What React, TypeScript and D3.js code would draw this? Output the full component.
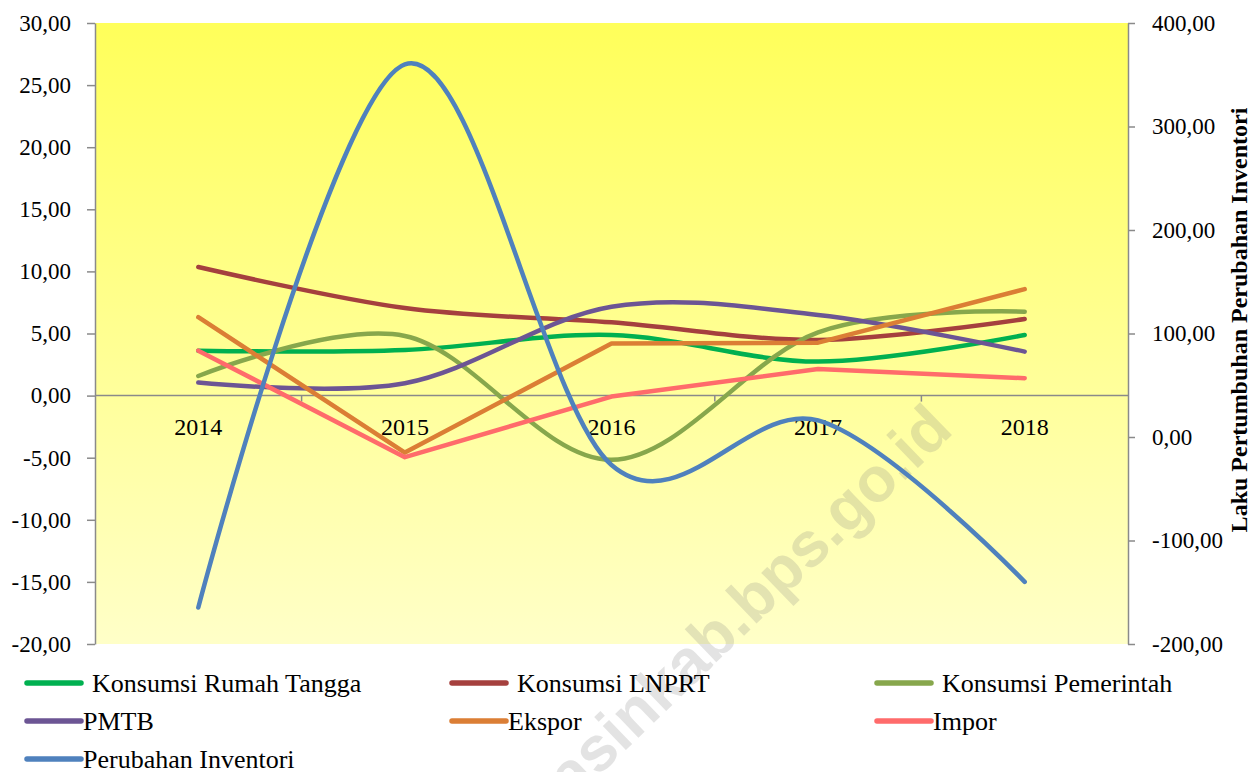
import { useRef, useEffect } from "react";
import * as d3 from "d3";

// years on the category axis
const years = ["2014", "2015", "2016", "2017", "2018"];

// growth rates (%), left axis
const rumahTangga = [3.62, 3.67, 4.88, 2.74, 4.88];
const lnprt = [10.35, 7.05, 5.9, 4.48, 6.17];
const pemerintah = [1.58, 4.8, -5.17, 5.1, 6.76];
const pmtb = [1.05, 1.0, 7.15, 6.49, 3.54];
const ekspor = [6.31, -4.59, 4.2, 4.26, 8.57];
const impor = [3.62, -4.96, -0.08, 2.15, 1.4];

// right axis
const inventori = [-164.7, 360, -27, 16, -140];

const leftDomain = [-20, 30];
const rightDomain = [-200, 400];
const rightTitle = "Laku Pertumbuhan Perubahan Inventori";

interface Series {
  name: string;
  values: number[];
  color: string;
  right?: boolean;
  smooth: boolean;
}

const series: Series[] = [
  { name: "Konsumsi Rumah Tangga", values: rumahTangga, color: "#00B050", smooth: true },
  { name: "Konsumsi LNPRT", values: lnprt, color: "#A5403E", smooth: true },
  { name: "Konsumsi Pemerintah", values: pemerintah, color: "#87A74C", smooth: true },
  { name: "PMTB", values: pmtb, color: "#6C5594", smooth: true },
  { name: "Ekspor", values: ekspor, color: "#DB7E35", smooth: false },
  { name: "Impor", values: impor, color: "#FF6B6B", smooth: false },
  { name: "Perubahan Inventori", values: inventori, color: "#4F81BD", right: true, smooth: true },
];

const W = 1257;
const H = 772;
const serif = "'Liberation Serif', 'Times New Roman', serif";

const locale = d3.formatLocale({
  decimal: ",",
  thousands: ".",
  grouping: [3],
  currency: ["", ""],
  minus: "-",
});
const fmt = locale.format(".2f");

export default function App() {
  const svgRef = useRef<SVGSVGElement>(null);

  useEffect(() => {
    if (!svgRef.current) return;
    const svg = d3.select(svgRef.current);
    svg.selectAll("*").remove();

    const left = 95;
    const right = 1128;
    const top = 23;
    const bottom = 644;

    const x = d3.scaleBand().domain(years).range([left, right]);
    const cx = (d: string) => (x(d) ?? 0) + x.bandwidth() / 2;
    const yL = d3.scaleLinear().domain(leftDomain).range([bottom, top]);
    const yR = d3.scaleLinear().domain(rightDomain).range([bottom, top]);

    // background gradient
    const grad = svg
      .append("defs")
      .append("linearGradient")
      .attr("id", "bg")
      .attr("x1", 0)
      .attr("y1", 0)
      .attr("x2", 0)
      .attr("y2", 1);
    grad.append("stop").attr("offset", "0%").attr("stop-color", "#FFFF5A");
    grad.append("stop").attr("offset", "100%").attr("stop-color", "#FFFFC8");

    svg.append("rect").attr("width", W).attr("height", H).attr("fill", "#fff");
    svg
      .append("rect")
      .attr("x", left)
      .attr("y", top)
      .attr("width", right - left)
      .attr("height", bottom - top)
      .attr("fill", "url(#bg)");

    // watermark
    svg
      .append("text")
      .attr("transform", "translate(955,432) rotate(-44)")
      .attr("text-anchor", "end")
      .attr("font-family", "'Liberation Sans', Arial, sans-serif")
      .attr("font-weight", "bold")
      .attr("font-size", 63)
      .attr("fill", "rgba(128,128,128,0.22)")
      .text("musibanyuasinkab.bps.go.id");

    // left axis
    const axL = svg
      .append("g")
      .attr("transform", `translate(${left},0)`)
      .call(d3.axisLeft(yL).ticks(10).tickFormat((d) => fmt(+d)).tickSize(8).tickPadding(16).tickSizeOuter(0));
    axL.selectAll("text").attr("font-family", serif).attr("font-size", 23).attr("fill", "#000");

    // right axis
    const axR = svg
      .append("g")
      .attr("transform", `translate(${right},0)`)
      .call(d3.axisRight(yR).ticks(6).tickFormat((d) => fmt(+d)).tickSize(7).tickPadding(17).tickSizeOuter(0));
    axR.selectAll("text").attr("font-family", serif).attr("font-size", 23).attr("fill", "#000");

    svg.selectAll(".domain, .tick line").attr("stroke", "#8A8A8A").attr("stroke-width", 1.5);

    // category axis on zero
    const y0 = yL(0);
    const cat = svg.append("g");
    cat
      .append("line")
      .attr("x1", left)
      .attr("x2", right)
      .attr("y1", y0)
      .attr("y2", y0)
      .attr("stroke", "#8A8A8A")
      .attr("stroke-width", 1.5);
    cat
      .selectAll(".ctick")
      .data(years.slice(1))
      .join("line")
      .attr("x1", (d) => x(d) ?? 0)
      .attr("x2", (d) => x(d) ?? 0)
      .attr("y1", y0)
      .attr("y2", y0 + 6)
      .attr("stroke", "#8A8A8A")
      .attr("stroke-width", 1.5);
    cat
      .selectAll(".clabel")
      .data(years)
      .join("text")
      .attr("x", (d) => cx(d))
      .attr("y", 435)
      .attr("text-anchor", "middle")
      .attr("font-family", serif)
      .attr("font-size", 24)
      .text((d) => d);

    // lines
    series.forEach((s) => {
      const y = s.right ? yR : yL;
      const line = d3
        .line<number>()
        .x((_, i) => cx(years[i]))
        .y((v) => y(v))
        .curve(s.smooth ? d3.curveCatmullRom.alpha(0) : d3.curveLinear);
      svg
        .append("path")
        .datum(s.values)
        .attr("d", line)
        .attr("fill", "none")
        .attr("stroke", s.color)
        .attr("stroke-width", 4.5)
        .attr("stroke-linecap", "round")
        .attr("stroke-linejoin", "round");
    });

    // right axis title
    svg
      .append("text")
      .attr("transform", "translate(1247,320) rotate(-90)")
      .attr("text-anchor", "middle")
      .attr("font-family", serif)
      .attr("font-weight", "bold")
      .attr("font-size", 24)
      .text(rightTitle);

    // legend
    const colX = [27, 452, 877];
    const rowY = [683, 721, 759];
    const leg = svg
      .append("g")
      .selectAll("g")
      .data(series)
      .join("g")
      .attr("transform", (_, i) => `translate(${colX[i % 3]},${rowY[Math.floor(i / 3)]})`);
    leg
      .append("line")
      .attr("x1", 0)
      .attr("x2", 54)
      .attr("stroke", (d) => d.color)
      .attr("stroke-width", 5.5)
      .attr("stroke-linecap", "round");
    leg
      .append("text")
      .attr("x", (_, i) => (i < 3 ? 65 : 56))
      .attr("y", 8.5)
      .attr("font-family", serif)
      .attr("font-size", 26)
      .text((d) => d.name);
  }, []);

  return (
    <svg
      ref={svgRef}
      width={W}
      height={H}
      style={{ position: "absolute", left: 0, top: 0, display: "block" }}
    />
  );
}
